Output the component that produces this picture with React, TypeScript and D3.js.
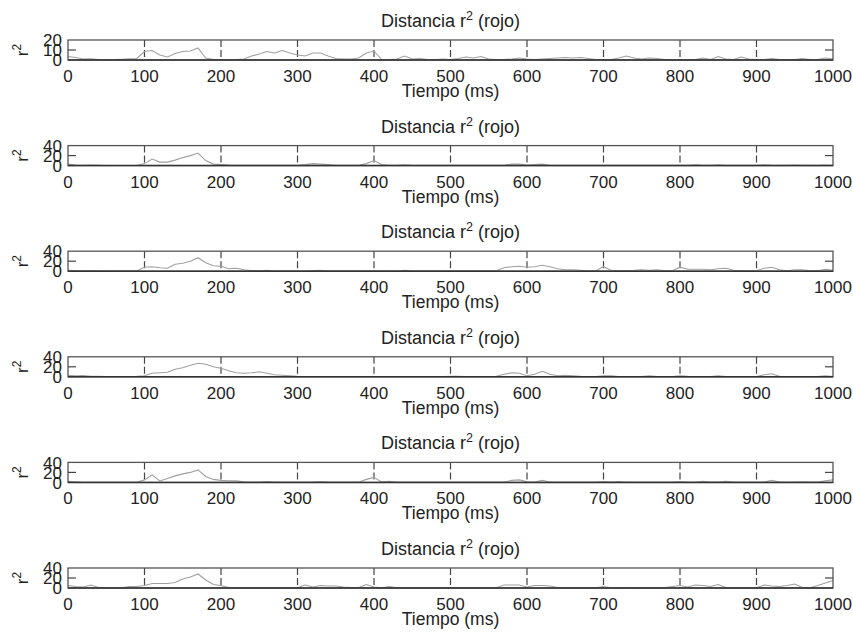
import React from 'react';
import * as d3 from 'd3';

// time axis (ms), one sample every 10 ms
const tiempo = d3.range(0, 1001, 10);
const xTicks = [0, 100, 200, 300, 400, 500, 600, 700, 800, 900, 1000];

// r^2 per panel
const r2Panel1 = [
  3.5, 2.5, 1, 1.2, 0.5, 0.3, 0.4, 0.8, 1.2, 1.5,
  8.5, 9.5, 5, 3, 6.5, 8.5, 9, 12, 2, 0.5,
  0.5, 0.3, 0.5, 1, 4, 6, 8.5, 7, 9.5, 7,
  5, 4, 7, 7, 4, 1.5, 1, 1, 2, 7,
  9, 0.5, 0.5, 1, 4, 1, 1.5, 0.5, 0.5, 1,
  0.5, 1.5, 3, 2, 3.5, 1, 0.5, 0.5, 1, 2,
  1, 0.5, 1, 1.5, 2, 2.5, 2, 2.5, 1.5, 0.5,
  0.5, 0.5, 2, 4, 2, 1, 2, 1.5, 0.5, 0.5,
  0.5, 0.5, 0.5, 2, 0.5, 3.5, 1, 0.5, 3, 1,
  0.5, 0.5, 1.5, 0.5, 0.5, 0.5, 1.5, 0.5, 0.5, 2,
  1,
];
const r2Panel2 = [
  3, 1, 0.5, 1, 0.5, 0.3, 0.3, 0.3, 0.3, 0.3,
  4, 13, 7, 7, 11, 16, 20, 25, 10, 3,
  2, 1, 0.5, 0.5, 0.5, 0.5, 0.5, 0.5, 0.5, 0.5,
  0.5, 2, 4, 3, 2, 0.5, 0.5, 0.5, 0.5, 4,
  10, 2, 0.5, 0.5, 1.5, 0.5, 0.5, 0.5, 0.5, 0.5,
  0.5, 0.5, 0.5, 0.5, 0.5, 0.5, 0.5, 0.5, 3, 3,
  1, 2, 3, 0.5, 0.5, 0.5, 0.5, 0.5, 0.5, 0.5,
  0.5, 0.5, 0.5, 0.5, 0.5, 0.5, 0.5, 0.5, 0.5, 0.5,
  0.5, 0.5, 1.5, 0.5, 0.5, 1.5, 0.5, 0.5, 0.5, 0.5,
  0.5, 1.5, 0.5, 0.5, 0.5, 1, 0.5, 0.5, 0.5, 1,
  0.5,
];
const r2Panel3 = [
  2, 1.5, 1, 1.5, 1, 0.5, 0.5, 0.5, 0.5, 1,
  8, 9, 7, 6, 14, 16, 20, 27, 17, 11,
  10, 5, 6, 3, 1.5, 1, 2, 0.5, 0.5, 0.5,
  0.5, 0.5, 1.5, 2, 1, 0.5, 0.5, 0.5, 0.5, 0.5,
  1, 0.5, 0.5, 0.5, 2, 1, 0.5, 0.5, 0.5, 0.5,
  1, 1, 1, 1, 1, 1, 1, 7, 9, 10,
  8, 9, 12, 9, 5, 3, 3, 2, 1, 1,
  9, 2, 1, 1.5, 2, 3, 2, 3, 1, 1,
  8, 4, 4, 4, 3, 5, 6, 2, 1, 1,
  1, 6, 8, 3, 1, 3, 3, 1, 1, 4,
  2,
];
const r2Panel4 = [
  3, 2, 2.5, 1, 1, 0.5, 0.5, 0.5, 0.5, 1,
  2, 7, 8, 9, 15, 18, 23, 27, 25, 20,
  17, 12, 8, 7, 8, 10, 7, 4, 3, 2,
  1, 0.5, 0.5, 0.5, 0.5, 0.5, 0.5, 0.5, 0.5, 0.5,
  0.5, 0.5, 0.5, 0.5, 0.5, 0.5, 0.5, 0.5, 0.5, 0.5,
  1, 1, 0.5, 0.5, 0.5, 0.5, 1, 5, 8, 7,
  2, 5, 11, 5, 2, 3, 2, 1, 0.5, 0.5,
  2, 2, 0.5, 0.5, 0.5, 0.5, 2, 0.5, 0.5, 0.5,
  2, 1, 0.5, 0.5, 0.5, 2, 0.5, 0.5, 0.5, 0.5,
  0.5, 4, 6, 1, 0.5, 0.5, 0.5, 0.5, 0.5, 2,
  0.5,
];
const r2Panel5 = [
  2, 1, 0.3, 0.3, 0.3, 0.3, 0.3, 0.3, 0.3, 0.3,
  5, 15, 3, 8, 13, 17, 20, 25, 12, 6,
  4, 3, 3, 1, 0.5, 0.5, 1.5, 0.5, 0.5, 0.5,
  0.5, 0.5, 0.5, 1.5, 0.5, 0.5, 0.5, 0.5, 0.5, 6,
  10, 1, 2, 0.5, 0.5, 0.5, 0.5, 0.5, 0.5, 0.5,
  0.5, 0.5, 0.5, 0.5, 0.5, 0.5, 0.5, 0.5, 4, 5,
  1, 0.5, 4, 0.5, 0.5, 0.5, 0.5, 0.5, 0.5, 0.5,
  1.5, 0.5, 1.5, 0.5, 0.5, 0.5, 0.5, 0.5, 0.5, 0.5,
  1.5, 0.5, 0.5, 2, 0.5, 0.5, 2, 0.5, 0.5, 0.5,
  0.5, 0.5, 4, 0.5, 0.5, 0.5, 1, 0.5, 0.5, 3,
  5,
];
const r2Panel6 = [
  5, 3, 2, 6, 1, 0.5, 0.5, 0.5, 3, 3,
  5, 9, 9, 9, 11, 18, 22, 28, 16, 7,
  5, 1, 0.5, 0.5, 0.5, 0.5, 0.5, 0.5, 0.5, 0.5,
  0.5, 6, 2, 5, 4, 4, 2, 1, 1, 7,
  2, 0.5, 3, 0.5, 0.5, 0.5, 0.5, 0.5, 0.5, 0.5,
  0.5, 0.5, 0.5, 0.5, 0.5, 0.5, 0.5, 6, 6, 6,
  2, 5, 5, 4, 1, 0.5, 0.5, 0.5, 0.5, 0.5,
  3, 0.5, 0.5, 1, 0.5, 0.5, 0.5, 0.5, 1, 3,
  5, 2, 6, 5, 3, 7, 1, 0.5, 0.5, 0.5,
  0.5, 6, 4, 3, 5, 8, 1, 0.5, 5, 10,
  15,
];

const panels = [r2Panel1, r2Panel2, r2Panel3, r2Panel4, r2Panel5, r2Panel6];
const yTicksPanel1 = [0, 10, 20];
const yTicksOther = [0, 20, 40];

const W = 853;
const H = 635;
const left = 68;
const right = 833;
const firstTop = 40;
const step = 105.6;
const boxH = 20;
const font = '"Liberation Sans", Arial, Helvetica, sans-serif';

export default function App() {
  const x = d3.scaleLinear().domain([0, 1000]).range([left, right]);

  return (
    <svg width={W} height={H} style={{ position: 'absolute', left: 0, top: 0, background: '#fff' }}
      fontFamily={font}>
      {panels.map((vals, p) => {
        const top = firstTop + p * step;
        const yTicks = p === 0 ? yTicksPanel1 : yTicksOther;
        const y = d3.scaleLinear().domain([0, yTicks[2]]).range([top + boxH, top]);
        const line = d3.line<number>()
          .x((_, i) => x(tiempo[i]))
          .y((d) => y(d));
        const bottom = top + boxH;
        return (
          <g key={p}>
            {/* title */}
            <text x={(left + right) / 2} y={top - 13} textAnchor="middle" fontSize={18} fill="#222">
              Distancia r<tspan fontSize={12.5} dy={-7}>2</tspan><tspan dy={7}> (rojo)</tspan>
            </text>

            {/* grid at inner ticks */}
            {xTicks.slice(1, -1).map((t) => (
              <line key={t} x1={x(t)} x2={x(t)} y1={top} y2={bottom}
                stroke="#444" strokeWidth={1.2} strokeDasharray="7,3" />
            ))}

            {/* data */}
            <path d={line(vals) || ''} fill="none" stroke="#a0a0a0" strokeWidth={1.1} />

            {/* box */}
            <rect x={left} y={top} width={right - left} height={boxH} fill="none" stroke="#555" strokeWidth={1.3} />
            <line x1={left} x2={right} y1={bottom} y2={bottom} stroke="#333" strokeWidth={1.5} />

            {/* y mid ticks */}
            <line x1={left} x2={left + 8} y1={y(yTicks[1])} y2={y(yTicks[1])} stroke="#444" strokeWidth={1.2} />
            <line x1={right - 8} x2={right} y1={y(yTicks[1])} y2={y(yTicks[1])} stroke="#444" strokeWidth={1.2} />

            {/* y tick labels */}
            {yTicks.map((t) => (
              <text key={t} x={left - 6} y={y(t)} dy="0.36em" textAnchor="end" fontSize={17} fill="#222">{t}</text>
            ))}

            {/* y label */}
            <text transform={`translate(${28},${top + boxH / 2}) rotate(-90)`} textAnchor="middle" fontSize={17} fill="#222">
              r<tspan fontSize={12} dy={-7}>2</tspan>
            </text>

            {/* x tick labels */}
            {xTicks.map((t) => (
              <text key={t} x={x(t)} y={bottom + 22} textAnchor="middle" fontSize={17} fill="#222">{t}</text>
            ))}

            {/* x label */}
            <text x={(left + right) / 2} y={bottom + 37} textAnchor="middle" fontSize={17.5} fill="#222">Tiempo (ms)</text>
          </g>
        );
      })}
    </svg>
  );
}
